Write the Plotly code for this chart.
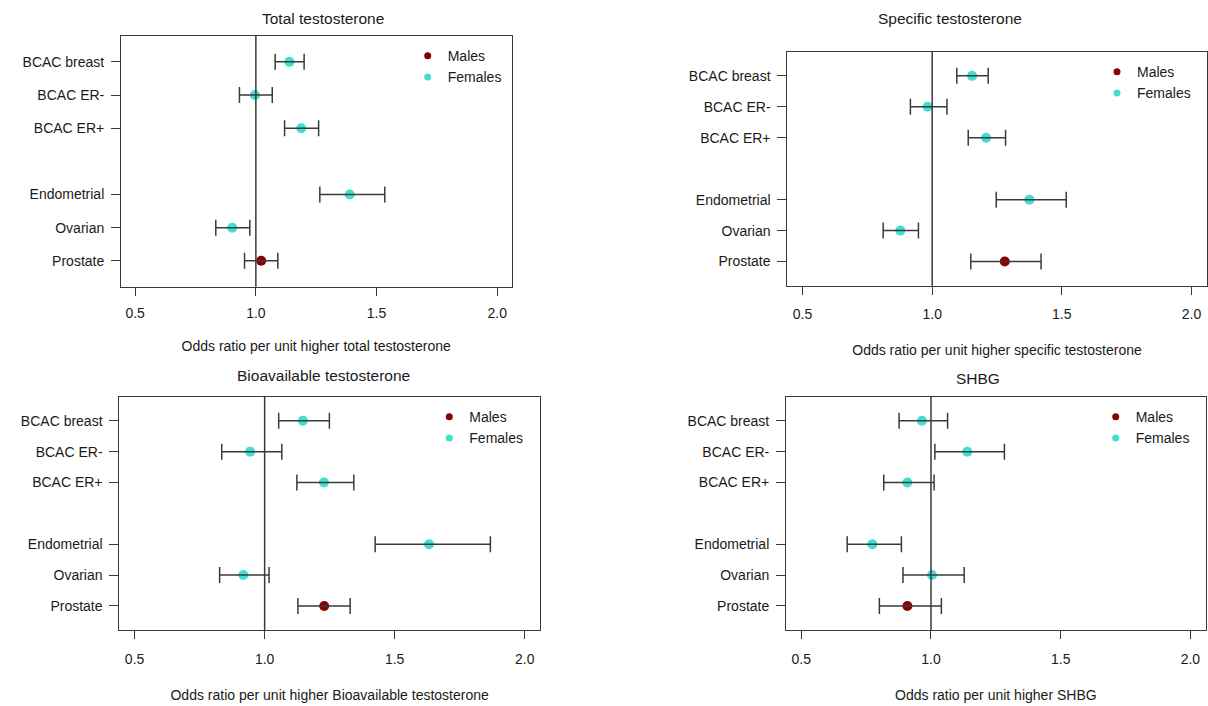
import plotly.graph_objects as go

# ---------------- data ----------------
cancers = ["BCAC breast", "BCAC ER-", "BCAC ER+", "Endometrial", "Ovarian", "Prostate"]
row_index = [7, 6, 5, 3, 2, 1]
sex = ["Females", "Females", "Females", "Females", "Females", "Males"]

total_or = [1.139, 0.996, 1.188, 1.389, 0.902, 1.022]
total_lo = [1.080, 0.932, 1.119, 1.265, 0.834, 0.953]
total_hi = [1.200, 1.068, 1.260, 1.534, 0.975, 1.091]

specific_or = [1.154, 0.982, 1.208, 1.375, 0.877, 1.280]
specific_lo = [1.095, 0.916, 1.139, 1.247, 0.811, 1.149]
specific_hi = [1.216, 1.057, 1.283, 1.517, 0.947, 1.420]

bio_or = [1.147, 0.944, 1.228, 1.632, 0.918, 1.229]
bio_lo = [1.054, 0.835, 1.124, 1.425, 0.827, 1.128]
bio_hi = [1.249, 1.066, 1.343, 1.868, 1.017, 1.329]

shbg_or = [0.965, 1.140, 0.909, 0.774, 1.004, 0.909]
shbg_lo = [0.877, 1.015, 0.818, 0.677, 0.892, 0.801]
shbg_hi = [1.064, 1.283, 1.012, 0.886, 1.128, 1.040]

panel_titles = ["Total testosterone", "Specific testosterone",
                "Bioavailable testosterone", "SHBG"]
x_titles = ["Odds ratio per unit higher total testosterone",
            "Odds ratio per unit higher specific testosterone",
            "Odds ratio per unit higher Bioavailable testosterone",
            "Odds ratio per unit higher SHBG"]
x_tickvals = [0.5, 1.0, 1.5, 2.0]
x_ticktext = ["0.5", "1.0", "1.5", "2.0"]
null_or = 1.0
legend_names = ["Males", "Females"]

# ---------------- styling / layout ----------------
W, H = 1208, 706
FONT = "Liberation Sans, Arial, sans-serif"
TXT = "#1a1a1a"
LINE = "#3a3a3a"
COL = {"Males": "#8B0000", "Females": "#40E0D0"}

# plot boxes in pixels: x0, x1, y0(top), y1(bottom)
boxes = [(120.7, 511.7, 36.0, 286.7),
         (787.0, 1207.0, 51.7, 285.7),
         (119.0, 540.3, 396.7, 630.0),
         (785.7, 1206.0, 396.7, 630.0)]
title_pos = [(323.3, 18.3), (950.0, 18.3), (323.3, 375.0), (977.7, 378.3)]
tick_standoff = [5, 7, 8, 8]
xtitle_standoff = [21, 24, 24, 24]
legend_dot = [(430.7, 58.7), (1120.0, 74.7), (452.3, 419.7), (1118.7, 419.7)]

series = [(total_or, total_lo, total_hi),
          (specific_or, specific_lo, specific_hi),
          (bio_or, bio_lo, bio_hi),
          (shbg_or, shbg_lo, shbg_hi)]


def px(x):
    return x / W


def py(y):
    return 1 - y / H


fig = go.Figure()
layout = dict(width=W, height=H, margin=dict(l=0, r=0, t=0, b=0),
              paper_bgcolor="white", plot_bgcolor="white",
              font=dict(family=FONT, size=14, color=TXT),
              showlegend=True, shapes=[], annotations=[])

for i, (orv, lo, hi) in enumerate(series):
    n = "" if i == 0 else str(i + 1)
    xa, ya = "x" + n, "y" + n
    leg = "legend" + n
    x0, x1, y0, y1 = boxes[i]

    # points by sex
    for s in ["Females", "Males"]:
        idx = [k for k in range(len(cancers)) if sex[k] == s]
        fig.add_trace(go.Scatter(
            x=[orv[k] for k in idx], y=[row_index[k] for k in idx],
            mode="markers", xaxis=xa, yaxis=ya, showlegend=False,
            marker=dict(color=COL[s], size=10, line=dict(width=0)),
            text=[cancers[k] for k in idx], hoverinfo="x+text"))
    # confidence intervals drawn on top of the points
    fig.add_trace(go.Scatter(
        x=orv, y=row_index, mode="markers", xaxis=xa, yaxis=ya,
        showlegend=False, hoverinfo="skip",
        marker=dict(color="rgba(0,0,0,0)", size=1),
        error_x=dict(type="data", symmetric=False,
                     array=[h - o for h, o in zip(hi, orv)],
                     arrayminus=[o - l for o, l in zip(orv, lo)],
                     color=LINE, thickness=1.5, width=8)))
    # legend entries
    for s in legend_names:
        fig.add_trace(go.Scatter(
            x=[None], y=[None], mode="markers", name=s, xaxis=xa, yaxis=ya,
            marker=dict(color=COL[s], size=7), legend=leg, showlegend=True))

    dx, dy = legend_dot[i]
    layout[leg] = dict(x=px(dx - 23), y=py(dy - 18.5), xanchor="left", yanchor="top",
                       bgcolor="rgba(0,0,0,0)", borderwidth=0,
                       font=dict(family=FONT, size=14, color=TXT),
                       tracegroupgap=0, itemclick=False)

    xkey = "xaxis" + n
    ykey = "yaxis" + n
    layout[xkey] = dict(domain=[px(x0), px(x1)], anchor=ya,
                        range=[0.44, 2.06], tickvals=x_tickvals, ticktext=x_ticktext,
                        ticks="outside", ticklen=8, tickwidth=1.3, tickcolor=LINE,
                        showline=True, mirror=True, linecolor=LINE, linewidth=1.3,
                        showgrid=False, zeroline=False, ticklabelstandoff=tick_standoff[i],
                        tickfont=dict(size=14, color=TXT),
                        title=dict(text=x_titles[i], standoff=xtitle_standoff[i],
                                   font=dict(size=14, color=TXT)))
    layout[ykey] = dict(domain=[py(y1), py(y0)], anchor=xa,
                        range=[0.22, 7.78], tickvals=row_index, ticktext=cancers,
                        ticks="outside", ticklen=8.5, tickwidth=1.3, tickcolor=LINE,
                        showline=True, mirror=True, linecolor=LINE, linewidth=1.3,
                        showgrid=False, zeroline=False, ticklabelstandoff=4,
                        tickfont=dict(size=14, color=TXT))

    layout["shapes"].append(dict(type="line", xref=xa, yref=ya + " domain",
                                 x0=null_or, x1=null_or, y0=0, y1=1,
                                 line=dict(color=LINE, width=1.5), layer="above"))
    tx, ty = title_pos[i]
    layout["annotations"].append(dict(text=panel_titles[i], xref="paper", yref="paper",
                                      x=px(tx), y=py(ty), xanchor="center", yanchor="middle",
                                      showarrow=False, font=dict(size=15.5, color=TXT)))

fig.update_layout(**layout)
fig.write_html("out.html", config={"displayModeBar": False},
               post_script="document.body.style.margin='0';document.body.style.padding='0';")
